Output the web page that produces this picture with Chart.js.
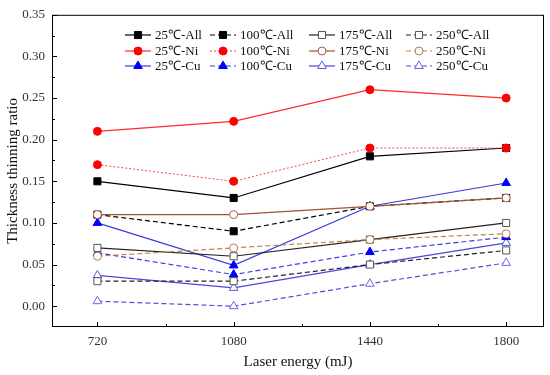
<!DOCTYPE html>
<html>
<head>
<meta charset="utf-8">
<script src="https://cdn.jsdelivr.net/npm/chart.js@4"></script>
<style>
  body { margin: 0; background: #fff; }
  #wrap { width: 550px; height: 375px; }
</style>
</head>
<body>
<div id="wrap"><canvas id="thinChart"></canvas></div>
<script>
// --- data
const energies = [720, 1080, 1440, 1800];
const yTicks = [0, 0.05, 0.10, 0.15, 0.20, 0.25, 0.30, 0.35];

const all25 = [0.15, 0.13, 0.18, 0.19];
const all100 = [0.11, 0.09, 0.12, 0.13];
const all175 = [0.07, 0.06, 0.08, 0.10];
const all250 = [0.03, 0.03, 0.05, 0.067];
const ni25 = [0.21, 0.222, 0.26, 0.25];
const ni100 = [0.17, 0.15, 0.19, 0.19];
const ni175 = [0.11, 0.11, 0.12, 0.13];
const ni250 = [0.06, 0.07, 0.08, 0.087];
const cu25 = [0.10, 0.049, 0.12, 0.148];
const cu100 = [0.064, 0.038, 0.065, 0.083];
const cu175 = [0.037, 0.022, 0.05, 0.076];
const cu250 = [0.006, 0.0, 0.027, 0.052];

const FONT = "'Liberation Serif', 'Times New Roman', serif";

// order: Ni drawn on top, then All, Cu at the bottom
function series(label, vals, color, dash, style, fill, edge, width) {
  return {
    label: label,
    data: vals.map((v, i) => ({ x: energies[i], y: v })),
    borderColor: color,
    borderWidth: width || 1.2,
    borderDash: dash,
    pointStyle: style,
    pointRadius: style === 'circle' ? 4 : 5,
    pointBackgroundColor: fill,
    pointBorderColor: edge,
    pointBorderWidth: 1,
    order: style === 'circle' ? 0 : (style === 'rect' ? 1 : 2),
    tension: 0
  };
}

const datasets = [
  series("25℃-All", all25, "#000", [], "rect", "#000", "#000"),
  series("100℃-All", all100, "#000", [5, 3], "rect", "#000", "#000"),
  series("175℃-All", all175, "#222", [], "rect", "#fff", "#555"),
  series("250℃-All", all250, "#222", [5, 3], "rect", "#fff", "#555"),
  series("25℃-Ni", ni25, "#ff2a2a", [], "circle", "#ff0000", "#ff0000"),
  series("100℃-Ni", ni100, "#ff4040", [2, 2], "circle", "#ff0000", "#ff0000", 1),
  series("175℃-Ni", ni175, "#a0503a", [], "circle", "#fff", "#b05a48"),
  series("250℃-Ni", ni250, "#c0824e", [5, 3], "circle", "#fff", "#b57a55"),
  series("25℃-Cu", cu25, "#3a3ae0", [], "triangle", "#0000ff", "#0000ff"),
  series("100℃-Cu", cu100, "#3a3ae0", [5, 3], "triangle", "#0000ff", "#0000ff"),
  series("175℃-Cu", cu175, "#4848e0", [], "triangle", "#fff", "#5a5ae0"),
  series("250℃-Cu", cu250, "#5a4ad8", [5, 3], "triangle", "#fff", "#6a6ae0")
];

// --- frame + inward ticks
const framePlugin = {
  id: 'frame',
  afterDraw(chart) {
    const { ctx, chartArea: { left, right, top, bottom } } = chart;
    const xs = chart.scales.x, ys = chart.scales.y;
    ctx.save();
    ctx.strokeStyle = '#000';
    ctx.lineWidth = 1;
    ctx.strokeRect(left + 0.5, top + 0.5, right - left - 1, bottom - top - 1);
    ctx.beginPath();
    for (let v = 0; v <= 0.3501; v += 0.025) {
      const y = Math.round(ys.getPixelForValue(v)) + 0.5;
      const len = Math.round(v * 1000) % 50 === 0 ? 5 : 3;
      ctx.moveTo(left, y); ctx.lineTo(left + len, y);
    }
    for (let v = 720; v <= 1800; v += 180) {
      const x = Math.round(xs.getPixelForValue(v)) + 0.5;
      const len = (v - 720) % 360 === 0 ? 5 : 3;
      ctx.moveTo(x, bottom); ctx.lineTo(x, bottom - len);
    }
    ctx.stroke();
    ctx.restore();
  }
};

// --- legend 4 columns x 3 rows inside the plot
const legendPlugin = {
  id: 'gridLegend',
  afterDraw(chart) {
    const ctx = chart.ctx;
    const colX = [125, 210, 309, 406];
    const rowY = [35, 51, 66];
    ctx.save();
    ctx.font = '13px ' + FONT;
    ctx.textBaseline = 'middle';
    chart.data.datasets.forEach((ds, i) => {
      const x = colX[i % 4], y = rowY[Math.floor(i / 4)];
      ctx.strokeStyle = ds.borderColor;
      ctx.lineWidth = ds.borderWidth;
      ctx.setLineDash(ds.borderDash);
      ctx.beginPath();
      ctx.moveTo(x, y); ctx.lineTo(x + 26, y);
      ctx.stroke();
      ctx.setLineDash([]);
      ctx.fillStyle = ds.pointBackgroundColor;
      ctx.strokeStyle = ds.pointBorderColor;
      ctx.lineWidth = 1;
      Chart.helpers.drawPoint(ctx, { pointStyle: ds.pointStyle, radius: ds.pointRadius, rotation: 0, borderWidth: 1 }, x + 13, y);
      ctx.fillStyle = '#111';
      ctx.fillText(ds.label, x + 30, y + 1);
    });
    ctx.restore();
  }
};

window.addEventListener("load", () => {
  const ctx = document.getElementById("thinChart").getContext("2d");
  new Chart(ctx, {
    type: "line",
    data: { datasets: datasets },
    options: {
      responsive: true, maintainAspectRatio: false, animation: false,
      layout: { padding: { top: 8, right: 4, left: 0, bottom: 0 } },
      plugins: { legend: { display: false }, tooltip: { enabled: false } },
      scales: {
        x: {
          type: 'linear', min: 600, max: 1900,
          afterBuildTicks: s => { s.ticks = energies.map(v => ({ value: v })); },
          afterFit: s => { s.height = 48; },
          grid: { display: false, drawTicks: false },
          border: { display: false },
          ticks: { color: '#333', padding: 7, font: { family: FONT, size: 13 }, callback: v => String(v) },
          title: { display: true, text: 'Laser energy (mJ)', color: '#111', font: { family: FONT, size: 15 }, padding: { top: 4 } }
        },
        y: {
          min: -0.025, max: 0.35,
          afterBuildTicks: s => { s.ticks = yTicks.map(v => ({ value: v })); },
          afterFit: s => { s.width = 52; },
          grid: { display: false, drawTicks: false },
          border: { display: false },
          ticks: { color: '#333', padding: 7, font: { family: FONT, size: 13 }, callback: v => v.toFixed(2) },
          title: { display: true, text: 'Thickness thinning ratio', color: '#111', font: { family: FONT, size: 15 }, padding: { bottom: 0 } }
        }
      }
    },
    plugins: [framePlugin, legendPlugin]
  });
});
</script>
</body>
</html>
